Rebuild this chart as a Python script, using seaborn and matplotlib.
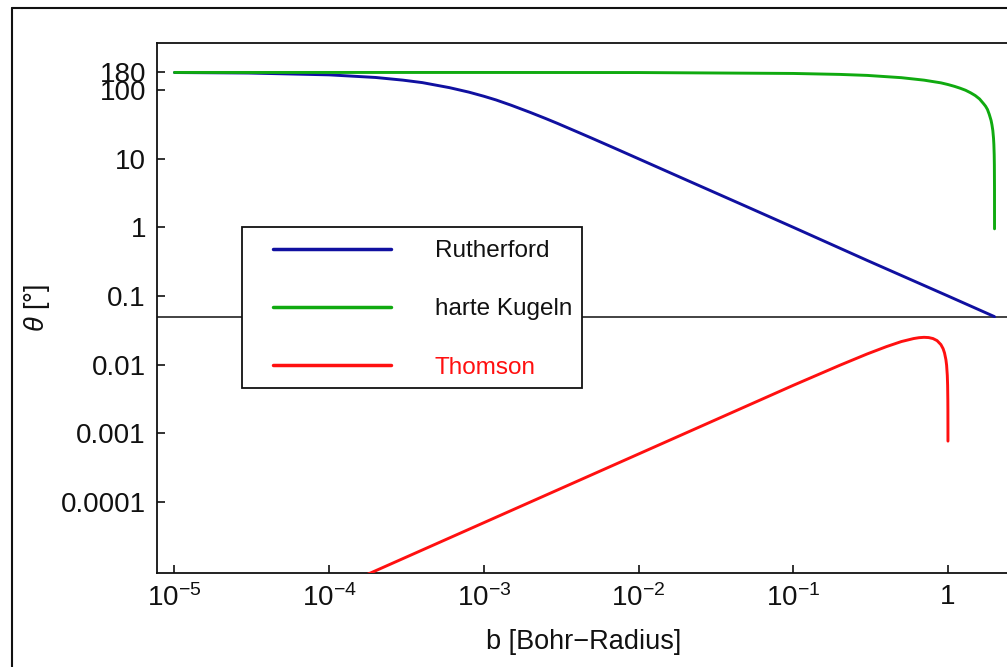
import numpy as np
import pandas as pd
import matplotlib
matplotlib.use("Agg")
import matplotlib.pyplot as plt
import seaborn as sns
from matplotlib.lines import Line2D
from matplotlib.patches import Rectangle
from matplotlib.ticker import FixedLocator, FixedFormatter, NullLocator

# ---------------- data ----------------
ruth_b = [1e-5, 3e-5, 1e-4, 2e-4, 3e-4, 4e-4, 6e-4, 8e-4, 1e-3, 1.2e-3, 1.5e-3,
          2e-3, 2.5e-3, 3e-3, 4e-3, 5e-3, 7e-3, 1e-2, 2e-2, 5e-2, 0.1, 0.3, 1.0, 2.0]
ruth_theta = [179.5, 176.5, 166, 152, 139, 128, 108, 93, 81, 71.5, 60,
              47, 38.5, 32.5, 24.6, 19.8, 14.2, 9.95, 4.98, 2.0, 1.0, 0.33, 0.1, 0.05]

hk_b = [1e-5, 1e-3, 1e-2, 0.1, 0.2, 0.3, 0.5, 0.7, 0.9, 1.0, 1.1, 1.2, 1.3,
        1.4, 1.5, 1.6, 1.7, 1.75, 1.8, 1.85, 1.9, 1.925, 1.95, 1.97, 1.98,
        1.99, 1.995, 1.999, 1.9999]
hk_theta = [180, 179.9, 179.4, 174, 168.5, 163, 151, 139, 127, 120, 113, 106, 99,
            91, 83, 74, 63, 58, 52, 44, 36, 31, 25.6, 19.8, 16.2,
            11.5, 8.1, 3.6, 0.95]

th_b = [1e-4, 2e-4, 1e-3, 1e-2, 0.1, 0.2, 0.3, 0.4, 0.5, 0.6, 0.65, 0.7, 0.75,
        0.8, 0.85, 0.9, 0.93, 0.95, 0.97, 0.98, 0.99, 0.995, 0.998, 0.999,
        0.9997, 0.99988]
th_theta = [5e-6, 1e-5, 5e-5, 5e-4, 0.005, 0.0098, 0.0143, 0.0183, 0.0217, 0.024,
            0.0247, 0.025, 0.0248, 0.024, 0.0224, 0.0196, 0.0171, 0.0148, 0.0118,
            0.0098, 0.007, 0.005, 0.0031, 0.0022, 0.0012, 0.00077]

ref_level = 0.05

series_names = ["Rutherford", "harte Kugeln", "Thomson"]
series_colors = ["#1010a0", "#10aa10", "#ff1010"]

x_ticks = [1e-5, 1e-4, 1e-3, 1e-2, 1e-1, 1]
x_ticklabels = [r"$10^{-5}$", r"$10^{-4}$", r"$10^{-3}$", r"$10^{-2}$", r"$10^{-1}$", "1"]
y_ticks = [180, 100, 10, 1, 0.1, 0.01, 0.001, 0.0001]
y_ticklabels = ["180", "100", "10", "1", "0.1", "0.01", "0.001", "0.0001"]

# ---------------- build table ----------------
df = pd.concat([
    pd.DataFrame({"b": ruth_b, "theta": ruth_theta, "model": series_names[0]}),
    pd.DataFrame({"b": hk_b, "theta": hk_theta, "model": series_names[1]}),
    pd.DataFrame({"b": th_b, "theta": th_theta, "model": series_names[2]}),
], ignore_index=True)

sns.set_style("ticks")
plt.rcParams["font.family"] = ["Liberation Sans", "DejaVu Sans"]
plt.rcParams["mathtext.fontset"] = "custom"
plt.rcParams["mathtext.rm"] = "Liberation Sans"
plt.rcParams["mathtext.it"] = "Liberation Sans:italic"
plt.rcParams["mathtext.bf"] = "Liberation Sans:bold"

W, H = 1007, 667
fig = plt.figure(figsize=(W / 100, H / 100), dpi=100)
fig.patch.set_facecolor("white")
ax = fig.add_axes([157 / W, (H - 573) / H, (1010 - 157) / W, (573 - 43) / H])

ax.set_xscale("log")
ax.set_yscale("log")

sns.lineplot(data=df, x="b", y="theta", hue="model", hue_order=series_names,
             palette=series_colors, estimator=None, sort=False, units="model",
             linewidth=2.1, ax=ax, legend=False, zorder=3)

ax.axhline(ref_level, color="#222222", linewidth=1.2, zorder=2)

ax.set_xlim(10 ** -5.113, 10 ** 0.401)
ax.set_ylim(10 ** -5.034, 10 ** 2.684)

ax.xaxis.set_major_locator(FixedLocator(x_ticks))
ax.xaxis.set_major_formatter(FixedFormatter(x_ticklabels))
ax.xaxis.set_minor_locator(NullLocator())
ax.yaxis.set_major_locator(FixedLocator(y_ticks))
ax.yaxis.set_major_formatter(FixedFormatter(y_ticklabels))
ax.yaxis.set_minor_locator(NullLocator())

ax.tick_params(axis="both", direction="in", length=6, width=1.2,
               labelsize=20, pad=8, colors="#111111", top=False, right=False)
for side in ["left", "bottom", "top"]:
    ax.spines[side].set_linewidth(1.3)
    ax.spines[side].set_color("#111111")
ax.spines["right"].set_visible(False)

ax.set_xlabel("b [Bohr\u2212Radius]", fontsize=19.5, color="#111111", labelpad=12)
ax.set_ylabel(r"$\theta$ [°]", fontsize=19.5, color="#111111")
ax.yaxis.set_label_coords((52 - 157) / (1010 - 157), 0.5)

# legend box
box = Rectangle(((242 - 157) / (1010 - 157), (573 - 388) / (573 - 43)),
                (582 - 242) / (1010 - 157), (388 - 227) / (573 - 43),
                transform=ax.transAxes, facecolor="white", edgecolor="#111111",
                linewidth=1.3, zorder=4)
ax.add_patch(box)

handles = [Line2D([], [], color=c, linewidth=2.5) for c in series_colors]
leg = ax.legend(handles, series_names, loc="upper left",
                bbox_to_anchor=(273 / W, 1 - 240 / H), bbox_transform=fig.transFigure,
                frameon=False, borderpad=0, borderaxespad=0, fontsize=17.5,
                handlelength=4.85, handletextpad=1.8, labelspacing=1.5)
leg.set_zorder(5)
for t, c in zip(leg.get_texts(), ["#111111", "#111111", "#ff1010"]):
    t.set_color(c)

# outer image frame
fig.add_artist(Line2D([12 / W, 12 / W], [1 - 8 / H, 0], transform=fig.transFigure,
                      color="#111111", linewidth=1.5))
fig.add_artist(Line2D([12 / W, 1], [1 - 8 / H, 1 - 8 / H], transform=fig.transFigure,
                      color="#111111", linewidth=1.5))

fig.savefig("out.png", dpi=100)
